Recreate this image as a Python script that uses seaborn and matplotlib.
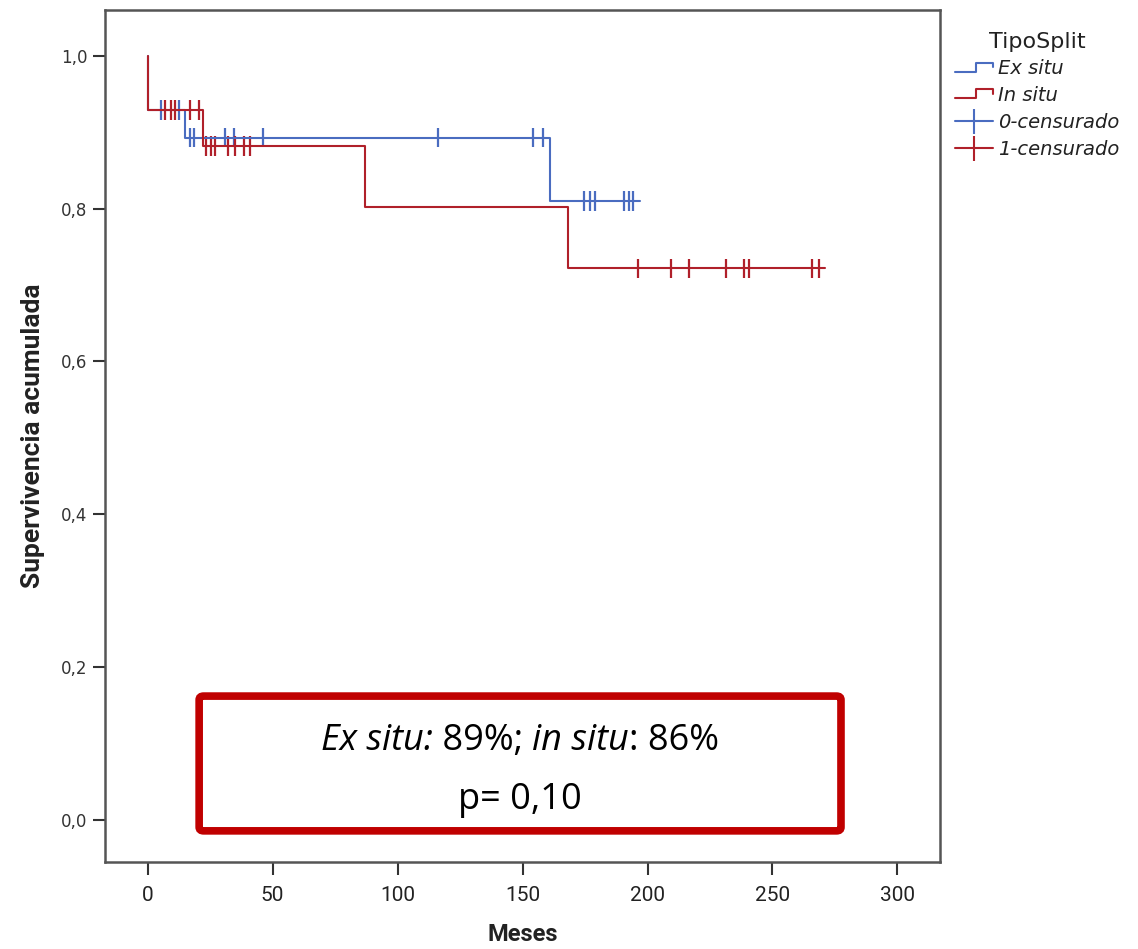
import numpy as np
import pandas as pd
import matplotlib
matplotlib.use("Agg")
import matplotlib.pyplot as plt
import seaborn as sns
from matplotlib.lines import Line2D
from matplotlib.legend_handler import HandlerBase
from matplotlib.patches import FancyBboxPatch

# Kaplan-Meier step points (months, cumulative survival)
exsitu_t = [0, 0, 15, 161, 197]
exsitu_s = [1.0, 0.929, 0.893, 0.81, 0.81]
insitu_t = [0, 0, 22, 87, 168, 271]
insitu_s = [1.0, 0.929, 0.882, 0.802, 0.722, 0.722]

# censored observations (months)
exsitu_cens = [5.5, 12.5, 17, 18.5, 31, 34.5, 46, 116, 154, 158,
               174.5, 177, 179, 190.5, 192.5, 194]
insitu_cens = [7, 9.5, 11, 17, 20.5, 23.5, 25.5, 27, 32, 35, 38.5, 41,
               196, 209.5, 216.5, 231.5, 238.5, 240.5, 266, 268.5]

groups = ["Ex situ", "In situ"]
colors = {"Ex situ": "#4a6cc0", "In situ": "#b0202a"}
yticks = [0.0, 0.2, 0.4, 0.6, 0.8, 1.0]
xticks = [0, 50, 100, 150, 200, 250, 300]


def surv_at(times, surv, t):
    idx = np.searchsorted(times, t, side="right") - 1
    return np.asarray(surv)[idx]


curves = pd.concat([
    pd.DataFrame({"Meses": exsitu_t, "Surv": exsitu_s, "Grupo": "Ex situ"}),
    pd.DataFrame({"Meses": insitu_t, "Surv": insitu_s, "Grupo": "In situ"}),
], ignore_index=True)
cens = pd.concat([
    pd.DataFrame({"Meses": exsitu_cens, "Surv": surv_at(exsitu_t, exsitu_s, exsitu_cens), "Grupo": "Ex situ"}),
    pd.DataFrame({"Meses": insitu_cens, "Surv": surv_at(insitu_t, insitu_s, insitu_cens), "Grupo": "In situ"}),
], ignore_index=True)

sns.set_style("white")
narrow = ["Roboto", "DejaVu Sans"]

fig = plt.figure(figsize=(11.38, 9.49), dpi=100)
ax = fig.add_axes([0.0923, 0.0917, 0.7337, 0.8978])

sns.lineplot(data=curves, x="Meses", y="Surv", hue="Grupo", palette=colors,
             estimator=None, sort=False, drawstyle="steps-post",
             linewidth=1.5, legend=False, ax=ax)
sns.scatterplot(data=cens, x="Meses", y="Surv", hue="Grupo", palette=colors,
                marker="|", s=190, linewidth=1.6, legend=False, ax=ax)

ax.set_xlim(-17, 317)
ax.set_ylim(-0.055, 1.06)
ax.set_xticks(xticks)
ax.set_xticklabels([str(v) for v in xticks], family=narrow, fontsize=15,
                   color="#222222")
ax.set_yticks(yticks)
ax.set_yticklabels([f"{v:.1f}".replace(".", ",") for v in yticks],
                   family="DejaVu Sans", fontsize=12, color="#333333")
ax.tick_params(axis="both", direction="out", length=9, width=1.5,
               color="#333333", bottom=True, left=True)
ax.tick_params(axis="x", pad=8)
for sp in ax.spines.values():
    sp.set_color("#555555")
    sp.set_linewidth(1.8)

ax.set_xlabel("Meses", family=narrow, fontsize=17, fontweight="bold",
              labelpad=13, color="#222222")
ax.set_ylabel("Supervivencia acumulada", family=narrow, fontsize=19,
              fontweight="bold", labelpad=12, color="#222222")


class StepHandler(HandlerBase):
    def create_artists(self, legend, orig_handle, xdescent, ydescent,
                       width, height, fontsize, trans):
        x0 = -xdescent
        y0 = -ydescent
        xs = [x0, x0 + 0.55 * width, x0 + 0.55 * width, x0 + width, x0 + width]
        ys = [y0 + 0.2 * height, y0 + 0.2 * height, y0 + 0.85 * height,
              y0 + 0.85 * height, y0 + 0.5 * height]
        ln = Line2D(xs, ys, color=orig_handle.get_color(), linewidth=1.5,
                    transform=trans)
        return [ln]


h_ex = Line2D([], [], color=colors["Ex situ"])
h_in = Line2D([], [], color=colors["In situ"])
h_c0 = Line2D([], [], color=colors["Ex situ"], marker="|", markersize=18,
              markeredgewidth=1.5, linewidth=1.5)
h_c1 = Line2D([], [], color=colors["In situ"], marker="|", markersize=18,
              markeredgewidth=1.5, linewidth=1.5)
leg = fig.legend([h_ex, h_in, h_c0, h_c1],
                 ["Ex situ", "In situ", "0-censurado", "1-censurado"],
                 handler_map={h_ex: StepHandler(), h_in: StepHandler()},
                 title="TipoSplit", loc="upper left",
                 bbox_to_anchor=(0.832, 0.975), frameon=False,
                 prop={"family": "DejaVu Sans", "style": "italic", "size": 14},
                 handlelength=2.0, handletextpad=0.25, labelspacing=0.4,
                 borderaxespad=0.0)
leg.get_title().set_fontsize(16)
leg.get_title().set_family("DejaVu Sans")
leg.get_title().set_color("#222222")
for t in leg.get_texts():
    t.set_color("#222222")

# annotation box with survival summary
box = FancyBboxPatch((0.175, 0.1245), 0.564, 0.142, transform=fig.transFigure,
                     boxstyle="round,pad=0,rounding_size=0.004",
                     facecolor="white", edgecolor="#c00000", linewidth=5.5,
                     zorder=5)
fig.patches.append(box)


def centered_segments(y, segments, size):
    renderer = fig.canvas.get_renderer()
    texts = [fig.text(0, y, s, style=st, fontsize=size, family="Open Sans",
                      color="black", va="center", ha="left", zorder=6)
             for s, st in segments]
    widths = [t.get_window_extent(renderer).width / fig.bbox.width for t in texts]
    x = 0.457 - sum(widths) / 2
    for t, w in zip(texts, widths):
        t.set_x(x)
        x += w


centered_segments(0.219, [("Ex situ:", "italic"), (" 89%; ", "normal"),
                          ("in situ", "italic"), (": 86%", "normal")], 26)
fig.text(0.457, 0.157, "p= 0,10", ha="center", va="center", fontsize=26,
         family="Open Sans", color="black", zorder=6)

fig.savefig("out.png", dpi=100)
plt.close(fig)
